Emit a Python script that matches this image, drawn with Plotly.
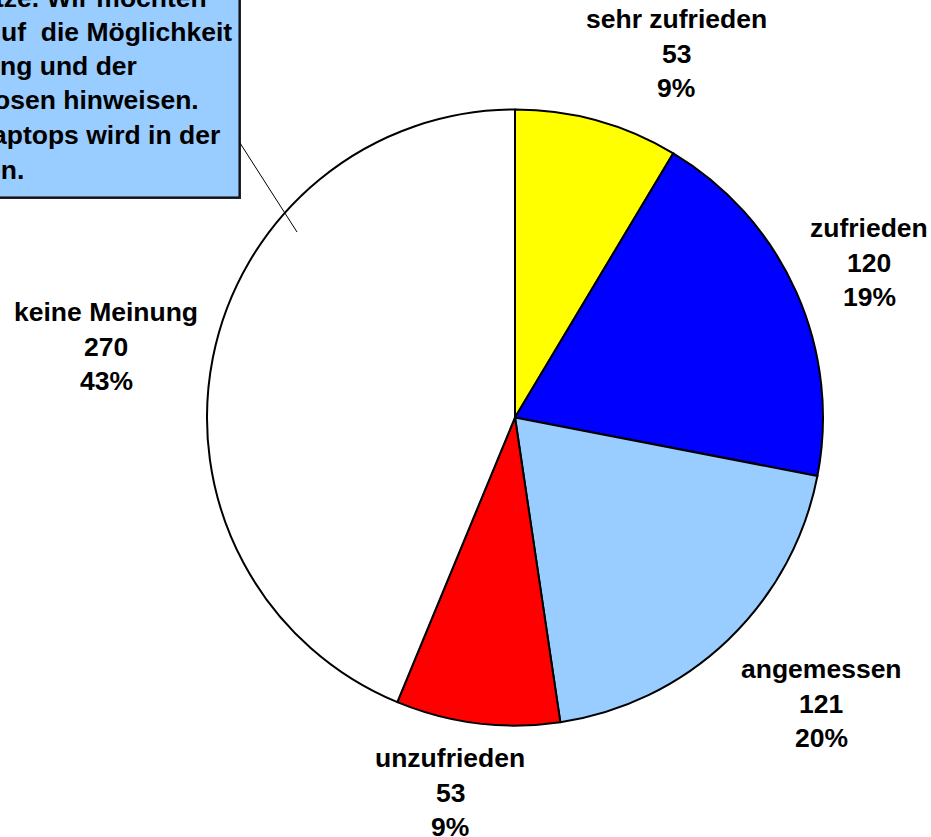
import plotly.graph_objects as go

W, H = 931, 837

# ---- data ----
categories = ["sehr zufrieden", "zufrieden", "angemessen", "unzufrieden", "keine Meinung"]
counts = [53, 120, 121, 53, 270]
percent_labels = ["9%", "19%", "20%", "9%", "43%"]
colors = ["#FFFF00", "#0000FF", "#99CCFF", "#FF0000", "#FFFFFF"]

# callout text fragments (visible part of a clipped text box)
callout_lines = [
    "tze. Wir möchten",
    "uf  die Möglichkeit",
    "ng und der",
    "osen hinweisen.",
    "aptops wird in der",
    "en.",
]

# ---- layout helpers (pixel -> paper) ----
def px(x):
    return x / W

def py(y):
    return 1 - y / H

FONT = "Liberation Sans, Arial, sans-serif"
FS = 26.5

fig = go.Figure(go.Pie(
    labels=categories,
    values=counts,
    sort=False,
    direction="clockwise",
    rotation=0,
    marker=dict(colors=colors, line=dict(color="black", width=2)),
    textinfo="none",
    hoverinfo="label+value+percent",
    showlegend=False,
    domain=dict(x=[px(207), px(823)], y=[py(726), py(109)]),
))

# outer label positions: (centre x, y of first line), line pitch
label_pos = [(676, 19), (869, 228), (821, 669), (450, 758), (106, 312)]
PITCH = 34.5

annotations = []
for cat, n, pc, (lx, ly) in zip(categories, counts, percent_labels, label_pos):
    for i, t in enumerate([cat, str(n), pc]):
        annotations.append(dict(
            x=px(lx), y=py(ly + i * PITCH), xref="paper", yref="paper",
            text=f"<b>{t}</b>", showarrow=False,
            xanchor="center", yanchor="middle", align="center",
            font=dict(family=FONT, size=FS, color="black"),
        ))

# callout box text (right-anchored fragments)
line_right = [209, 234, 139, 201, 222, 26]
line_y = [-2, 32, 66, 100, 135, 170]
for t, rx, ly in zip(callout_lines, line_right, line_y):
    annotations.append(dict(
        x=px(rx), y=py(ly), xref="paper", yref="paper",
        text=f"<b>{t}</b>", showarrow=False,
        xanchor="right", yanchor="middle", align="left",
        font=dict(family=FONT, size=FS, color="black"),
    ))

shapes = [
    # shadow
    dict(type="rect", xref="paper", yref="paper",
         x0=px(-20), x1=px(241), y0=py(199), y1=py(-20),
         fillcolor="#222222", line=dict(width=0), layer="below"),
    # box
    dict(type="rect", xref="paper", yref="paper",
         x0=px(-20), x1=px(239), y0=py(197), y1=py(-20),
         fillcolor="#99CCFF", line=dict(color="black", width=1), layer="below"),
    # leader line
    dict(type="line", xref="paper", yref="paper",
         x0=px(240), y0=py(143), x1=px(297), y1=py(232),
         line=dict(color="black", width=1)),
]

fig.update_layout(
    width=W, height=H,
    margin=dict(l=0, r=0, t=0, b=0),
    paper_bgcolor="white", plot_bgcolor="white",
    annotations=annotations,
    shapes=shapes,
)

fig.write_html(
    "out.html",
    config={"displayModeBar": False},
    post_script="document.body.style.margin='0';document.body.style.overflow='hidden';",
)
